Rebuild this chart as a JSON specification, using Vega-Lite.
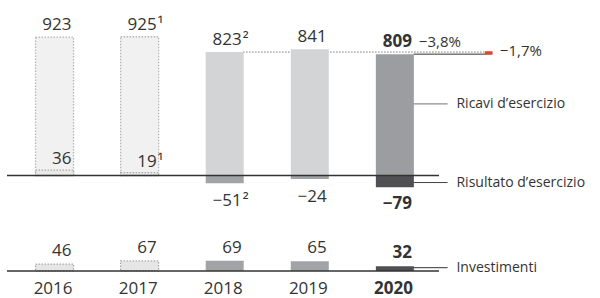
{
  "$schema": "https://vega.github.io/schema/vega-lite/v6.json",
  "width": 432,
  "height": 271,
  "autosize": {"type": "none"},
  "padding": {"left": 7, "top": 0, "right": 161, "bottom": 27},
  "background": "white",
  "config": {"view": {"stroke": null}, "font": "Open Sans", "text": {"color": "#333333", "font": "Open Sans"}},
  "datasets": {
    "d": [
      {"year": 2016, "kind": "old", "revenue": 923, "result": 36, "invest": 46, "revNote": "", "resNote": ""},
      {"year": 2017, "kind": "old", "revenue": 925, "result": 19, "invest": 67, "revNote": "¹", "resNote": "¹"},
      {"year": 2018, "kind": "prev", "revenue": 823, "result": -51, "invest": 69, "revNote": "²", "resNote": "²"},
      {"year": 2019, "kind": "prev", "revenue": 841, "result": -24, "invest": 65, "revNote": "", "resNote": ""},
      {"year": 2020, "kind": "curr", "revenue": 809, "result": -79, "invest": 32, "revNote": "", "resNote": ""}
    ]
  },
  "data": {"name": "d"},
  "resolve": {"scale": {"y": "independent"}},
  "layer": [
    {
      "layer": [
        {
          "data": {"values": [{}]},
          "mark": {"type": "rule", "color": "#333333", "strokeWidth": 1, "strokeDash": [1, 2]},
          "encoding": {
            "x": {"datum": 2018.22, "type": "quantitative", "scale": {"domain": [2015.5, 2020.46], "nice": false, "zero": false}, "axis": null},
            "x2": {"datum": 2021.068},
            "y": {"datum": 823, "type": "quantitative", "scale": {"domain": [-636.7, 1170], "nice": false, "zero": false}, "axis": null}
          }
        },
        {
          "data": {"values": [{}]},
          "mark": {"type": "rule", "color": "#333333", "strokeWidth": 1},
          "encoding": {
            "x": {"datum": 2020.22, "type": "quantitative", "scale": {"domain": [2015.5, 2020.46], "nice": false, "zero": false}, "axis": null},
            "x2": {"datum": 2021.068},
            "y": {"datum": 809, "type": "quantitative", "scale": {"domain": [-636.7, 1170], "nice": false, "zero": false}, "axis": null}
          }
        },
        {
          "data": {"values": [{}]},
          "mark": {"type": "rule", "color": "#8e8f92", "strokeWidth": 1.3},
          "encoding": {
            "x": {"datum": 2020, "type": "quantitative", "scale": {"domain": [2015.5, 2020.46], "nice": false, "zero": false}, "axis": null},
            "x2": {"datum": 2020.62},
            "y": {"datum": 477, "type": "quantitative", "scale": {"domain": [-636.7, 1170], "nice": false, "zero": false}, "axis": null}
          }
        },
        {
          "data": {"values": [{}]},
          "mark": {"type": "rule", "color": "#444444", "strokeWidth": 1},
          "encoding": {
            "x": {"datum": 2020, "type": "quantitative", "scale": {"domain": [2015.5, 2020.46], "nice": false, "zero": false}, "axis": null},
            "x2": {"datum": 2020.62},
            "y": {"datum": -47, "type": "quantitative", "scale": {"domain": [-636.7, 1170], "nice": false, "zero": false}, "axis": null}
          }
        },
        {
          "mark": {"type": "bar", "width": 38, "orient": "vertical", "strokeDash": [1.5, 1.5], "strokeWidth": 1.3},
          "encoding": {
            "x": {"field": "year", "type": "quantitative", "scale": {"domain": [2015.5, 2020.46], "nice": false, "zero": false}, "axis": null},
            "y": {"field": "revenue", "type": "quantitative", "scale": {"domain": [-636.7, 1170], "nice": false, "zero": false}, "axis": null},
            "fill": {"condition": [{"test": "datum.kind == 'old'", "value": "#f1f1f2"}, {"test": "datum.kind == 'prev'", "value": "#d3d4d6"}], "value": "#9c9da0"},
            "stroke": {"condition": {"test": "datum.kind == 'old'", "value": "#b3b4b6"}, "value": null}
          }
        },
        {
          "mark": {"type": "bar", "width": 38, "orient": "vertical", "strokeDash": [1.5, 1.5], "strokeWidth": 1.3},
          "encoding": {
            "x": {"field": "year", "type": "quantitative", "scale": {"domain": [2015.5, 2020.46], "nice": false, "zero": false}, "axis": null},
            "y": {"field": "result", "type": "quantitative", "scale": {"domain": [-636.7, 1170], "nice": false, "zero": false}, "axis": null},
            "fill": {"condition": [{"test": "datum.kind == 'old'", "value": "#e9e9ea"}, {"test": "datum.kind == 'prev'", "value": "#a2a3a6"}], "value": "#505053"},
            "stroke": {"condition": {"test": "datum.kind == 'old'", "value": "#a9aaac"}, "value": null}
          }
        },
        {
          "data": {"values": [{}]},
          "mark": {"type": "rule", "color": "#333333", "strokeWidth": 1.3},
          "encoding": {
            "y": {"datum": 0, "type": "quantitative", "scale": {"domain": [-636.7, 1170], "nice": false, "zero": false}, "axis": null}
          }
        },
        {
          "data": {"values": [{}]},
          "mark": {"type": "rect", "color": "#e4412b", "stroke": "#e4412b", "strokeWidth": 1.4},
          "encoding": {
            "x": {"datum": 2021.068, "type": "quantitative", "scale": {"domain": [2015.5, 2020.46], "nice": false, "zero": false}, "axis": null},
            "x2": {"datum": 2021.14},
            "y": {"datum": 823, "type": "quantitative", "scale": {"domain": [-636.7, 1170], "nice": false, "zero": false}, "axis": null},
            "y2": {"datum": 809}
          }
        },
        {
          "transform": [{"filter": "datum.year != 2020"}],
          "mark": {"type": "text", "align": "right", "baseline": "alphabetic", "dx": 17, "dy": -7, "fontSize": 17, "color": "#333333"},
          "encoding": {
            "x": {"field": "year", "type": "quantitative", "scale": {"domain": [2015.5, 2020.46], "nice": false, "zero": false}, "axis": null},
            "y": {"field": "revenue", "type": "quantitative", "scale": {"domain": [-636.7, 1170], "nice": false, "zero": false}, "axis": null},
            "text": {"field": "revenue", "type": "quantitative", "format": "d"}
          }
        },
        {
          "transform": [{"filter": "datum.year == 2020"}],
          "mark": {"type": "text", "align": "right", "baseline": "alphabetic", "dx": 17, "dy": -7, "fontSize": 17, "fontWeight": "bold", "color": "#333333"},
          "encoding": {
            "x": {"field": "year", "type": "quantitative", "scale": {"domain": [2015.5, 2020.46], "nice": false, "zero": false}, "axis": null},
            "y": {"field": "revenue", "type": "quantitative", "scale": {"domain": [-636.7, 1170], "nice": false, "zero": false}, "axis": null},
            "text": {"field": "revenue", "type": "quantitative", "format": "d"}
          }
        },
        {
          "transform": [{"filter": "datum.revNote != ''"}],
          "mark": {"type": "text", "align": "left", "baseline": "alphabetic", "dx": 18, "dy": -7, "fontSize": 17, "color": "#333333"},
          "encoding": {
            "x": {"field": "year", "type": "quantitative", "scale": {"domain": [2015.5, 2020.46], "nice": false, "zero": false}, "axis": null},
            "y": {"field": "revenue", "type": "quantitative", "scale": {"domain": [-636.7, 1170], "nice": false, "zero": false}, "axis": null},
            "text": {"field": "revNote"}
          }
        },
        {
          "transform": [{"filter": "datum.result >= 0"}],
          "mark": {"type": "text", "align": "right", "baseline": "alphabetic", "dx": 17, "dy": -6, "fontSize": 17, "color": "#333333"},
          "encoding": {
            "x": {"field": "year", "type": "quantitative", "scale": {"domain": [2015.5, 2020.46], "nice": false, "zero": false}, "axis": null},
            "y": {"field": "result", "type": "quantitative", "scale": {"domain": [-636.7, 1170], "nice": false, "zero": false}, "axis": null},
            "text": {"field": "result", "type": "quantitative", "format": "d"}
          }
        },
        {
          "transform": [{"filter": "datum.result < 0 && datum.year != 2020"}],
          "mark": {"type": "text", "align": "right", "baseline": "alphabetic", "dx": 17, "dy": 23, "fontSize": 17, "color": "#333333"},
          "encoding": {
            "x": {"field": "year", "type": "quantitative", "scale": {"domain": [2015.5, 2020.46], "nice": false, "zero": false}, "axis": null},
            "y": {"field": "result", "type": "quantitative", "scale": {"domain": [-636.7, 1170], "nice": false, "zero": false}, "axis": null},
            "text": {"field": "result", "type": "quantitative", "format": "d"}
          }
        },
        {
          "transform": [{"filter": "datum.year == 2020"}],
          "mark": {"type": "text", "align": "right", "baseline": "alphabetic", "dx": 17, "dy": 22, "fontSize": 17, "fontWeight": "bold", "color": "#333333"},
          "encoding": {
            "x": {"field": "year", "type": "quantitative", "scale": {"domain": [2015.5, 2020.46], "nice": false, "zero": false}, "axis": null},
            "y": {"field": "result", "type": "quantitative", "scale": {"domain": [-636.7, 1170], "nice": false, "zero": false}, "axis": null},
            "text": {"field": "result", "type": "quantitative", "format": "d"}
          }
        },
        {
          "transform": [{"filter": "datum.resNote != '' && datum.result >= 0"}],
          "mark": {"type": "text", "align": "left", "baseline": "alphabetic", "dx": 18, "dy": -6, "fontSize": 17, "color": "#333333"},
          "encoding": {
            "x": {"field": "year", "type": "quantitative", "scale": {"domain": [2015.5, 2020.46], "nice": false, "zero": false}, "axis": null},
            "y": {"field": "result", "type": "quantitative", "scale": {"domain": [-636.7, 1170], "nice": false, "zero": false}, "axis": null},
            "text": {"field": "resNote"}
          }
        },
        {
          "transform": [{"filter": "datum.resNote != '' && datum.result < 0"}],
          "mark": {"type": "text", "align": "left", "baseline": "alphabetic", "dx": 18, "dy": 23, "fontSize": 17, "color": "#333333"},
          "encoding": {
            "x": {"field": "year", "type": "quantitative", "scale": {"domain": [2015.5, 2020.46], "nice": false, "zero": false}, "axis": null},
            "y": {"field": "result", "type": "quantitative", "scale": {"domain": [-636.7, 1170], "nice": false, "zero": false}, "axis": null},
            "text": {"field": "resNote"}
          }
        },
        {
          "data": {"values": [{}]},
          "mark": {"type": "text", "align": "left", "baseline": "alphabetic", "dx": 24, "dy": -7, "fontSize": 15, "color": "#333333", "text": "−3,8%"},
          "encoding": {
            "x": {"datum": 2020, "type": "quantitative", "scale": {"domain": [2015.5, 2020.46], "nice": false, "zero": false}, "axis": null},
            "y": {"datum": 809, "type": "quantitative", "scale": {"domain": [-636.7, 1170], "nice": false, "zero": false}, "axis": null}
          }
        },
        {
          "data": {"values": [{}]},
          "mark": {"type": "text", "align": "left", "baseline": "middle", "dx": 8, "dy": -2, "fontSize": 15, "color": "#333333", "text": "−1,7%"},
          "encoding": {
            "x": {"datum": 2021.14, "type": "quantitative", "scale": {"domain": [2015.5, 2020.46], "nice": false, "zero": false}, "axis": null},
            "y": {"datum": 816, "type": "quantitative", "scale": {"domain": [-636.7, 1170], "nice": false, "zero": false}, "axis": null}
          }
        },
        {
          "data": {"values": [{}]},
          "mark": {"type": "text", "align": "left", "baseline": "middle", "fontSize": 14, "color": "#333333", "text": "Ricavi d’esercizio"},
          "encoding": {
            "x": {"datum": 2020.724, "type": "quantitative", "scale": {"domain": [2015.5, 2020.46], "nice": false, "zero": false}, "axis": null},
            "y": {"datum": 477, "type": "quantitative", "scale": {"domain": [-636.7, 1170], "nice": false, "zero": false}, "axis": null}
          }
        },
        {
          "data": {"values": [{}]},
          "mark": {"type": "text", "align": "left", "baseline": "middle", "fontSize": 14, "color": "#333333", "text": "Risultato d’esercizio"},
          "encoding": {
            "x": {"datum": 2020.724, "type": "quantitative", "scale": {"domain": [2015.5, 2020.46], "nice": false, "zero": false}, "axis": null},
            "y": {"datum": -47, "type": "quantitative", "scale": {"domain": [-636.7, 1170], "nice": false, "zero": false}, "axis": null}
          }
        }
      ]
    },
    {
      "layer": [
        {
          "data": {"values": [{}]},
          "mark": {"type": "rule", "color": "#333333", "strokeWidth": 1},
          "encoding": {
            "x": {"datum": 2020, "type": "quantitative", "scale": {"domain": [2015.5, 2020.46], "nice": false, "zero": false}, "axis": null},
            "x2": {"datum": 2020.62},
            "y": {"datum": 22, "type": "quantitative", "scale": {"domain": [0, 1806.7], "nice": false, "zero": false}, "axis": null}
          }
        },
        {
          "mark": {"type": "bar", "width": 38, "orient": "vertical", "strokeDash": [1.5, 1.5], "strokeWidth": 1.3},
          "encoding": {
            "x": {"field": "year", "type": "quantitative", "scale": {"domain": [2015.5, 2020.46], "nice": false, "zero": false}, "axis": null},
            "y": {"field": "invest", "type": "quantitative", "scale": {"domain": [0, 1806.7], "nice": false, "zero": false}, "axis": null},
            "fill": {"condition": [{"test": "datum.kind == 'old'", "value": "#e6e6e7"}, {"test": "datum.kind == 'prev'", "value": "#a2a3a6"}], "value": "#505053"},
            "stroke": {"condition": {"test": "datum.kind == 'old'", "value": "#a9aaac"}, "value": null}
          }
        },
        {
          "data": {"values": [{}]},
          "mark": {"type": "rule", "color": "#333333", "strokeWidth": 1.3},
          "encoding": {
            "y": {"datum": 0, "type": "quantitative", "scale": {"domain": [0, 1806.7], "nice": false, "zero": false}, "axis": null}
          }
        },
        {
          "transform": [{"filter": "datum.year != 2020"}],
          "mark": {"type": "text", "align": "right", "baseline": "alphabetic", "dx": 17, "dy": -8, "fontSize": 17, "color": "#333333"},
          "encoding": {
            "x": {"field": "year", "type": "quantitative", "scale": {"domain": [2015.5, 2020.46], "nice": false, "zero": false}, "axis": null},
            "y": {"field": "invest", "type": "quantitative", "scale": {"domain": [0, 1806.7], "nice": false, "zero": false}, "axis": null},
            "text": {"field": "invest", "type": "quantitative", "format": "d"}
          }
        },
        {
          "transform": [{"filter": "datum.year == 2020"}],
          "mark": {"type": "text", "align": "right", "baseline": "alphabetic", "dx": 17, "dy": -8, "fontSize": 17, "fontWeight": "bold", "color": "#333333"},
          "encoding": {
            "x": {"field": "year", "type": "quantitative", "scale": {"domain": [2015.5, 2020.46], "nice": false, "zero": false}, "axis": null},
            "y": {"field": "invest", "type": "quantitative", "scale": {"domain": [0, 1806.7], "nice": false, "zero": false}, "axis": null},
            "text": {"field": "invest", "type": "quantitative", "format": "d"}
          }
        },
        {
          "transform": [{"filter": "datum.year != 2020"}],
          "mark": {"type": "text", "align": "right", "baseline": "alphabetic", "dx": 18, "dy": 22.5, "fontSize": 17, "color": "#333333"},
          "encoding": {
            "x": {"field": "year", "type": "quantitative", "scale": {"domain": [2015.5, 2020.46], "nice": false, "zero": false}, "axis": null},
            "y": {"datum": 0, "type": "quantitative", "scale": {"domain": [0, 1806.7], "nice": false, "zero": false}, "axis": null},
            "text": {"field": "year", "type": "quantitative", "format": "d"}
          }
        },
        {
          "transform": [{"filter": "datum.year == 2020"}],
          "mark": {"type": "text", "align": "right", "baseline": "alphabetic", "dx": 18, "dy": 22.5, "fontSize": 17, "fontWeight": "bold", "color": "#333333"},
          "encoding": {
            "x": {"field": "year", "type": "quantitative", "scale": {"domain": [2015.5, 2020.46], "nice": false, "zero": false}, "axis": null},
            "y": {"datum": 0, "type": "quantitative", "scale": {"domain": [0, 1806.7], "nice": false, "zero": false}, "axis": null},
            "text": {"field": "year", "type": "quantitative", "format": "d"}
          }
        },
        {
          "data": {"values": [{}]},
          "mark": {"type": "text", "align": "left", "baseline": "middle", "fontSize": 14, "color": "#333333", "text": "Investimenti"},
          "encoding": {
            "x": {"datum": 2020.724, "type": "quantitative", "scale": {"domain": [2015.5, 2020.46], "nice": false, "zero": false}, "axis": null},
            "y": {"datum": 22, "type": "quantitative", "scale": {"domain": [0, 1806.7], "nice": false, "zero": false}, "axis": null}
          }
        }
      ]
    }
  ]
}
